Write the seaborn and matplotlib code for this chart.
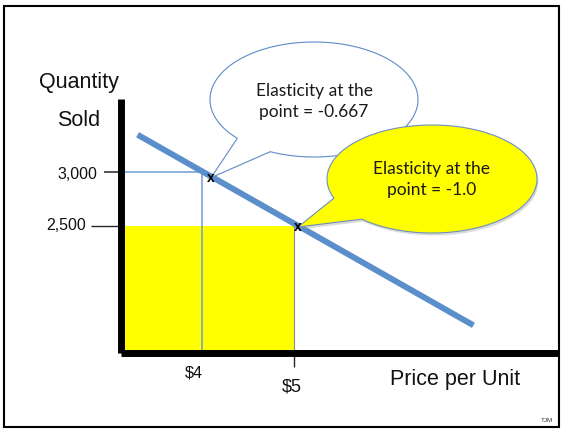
import numpy as np
import matplotlib
matplotlib.use("Agg")
import matplotlib.pyplot as plt
import seaborn as sns
from matplotlib.path import Path
from matplotlib.patches import PathPatch, Rectangle
from matplotlib.transforms import IdentityTransform, Affine2D

# Demand curve end points (price per unit, quantity sold)
demand_price = [3.3, 6.95]
demand_qty = [3345, 1580]

# Points on the curve where elasticity is measured
point_price = [4, 5]
point_qty = [3000, 2500]
price_labels = ["$4", "$5"]
qty_labels = ["3,000", "2,500"]
elasticity = ["-0.667", "-1.0"]

W, H, DPI = 561, 429, 100
LINE_BLUE = "#5b8fcc"
GUIDE_BLUE = "#6f9bd1"
YELLOW = "#ffff00"

sns.set_theme(style="white")
plt.rcParams["font.family"] = ["Liberation Sans", "DejaVu Sans"]

fig = plt.figure(figsize=(W / DPI, H / DPI), dpi=DPI)
fig.patch.set_facecolor("white")


def fx(px):
    return px / W


def fy(py):
    return 1 - py / H


# plot area between the two heavy axis bars
left, right, top, bottom = 120.5, 557.7, 99, 353.3
ax = fig.add_axes([fx(left), fy(bottom), (right - left) / W, (bottom - top) / H])
ax.set_facecolor("none")
ax.set_xlim(3.114, 7.866)
ax.set_ylim(1321, 3676)
x0, y0 = ax.get_xlim()[0], ax.get_ylim()[0]

# total revenue rectangle at $5
ax.fill_between([x0, point_price[1]], y0, point_qty[1], color=YELLOW, lw=0, zorder=1)
ax.vlines(point_price[1], y0, point_qty[1], color="#8a8a8a", lw=0.8, zorder=2)

# guides to the $4 point
ax.hlines(point_qty[0], x0, point_price[0], color=GUIDE_BLUE, lw=1.1, zorder=2)
ax.vlines(point_price[0], y0, point_qty[0], color=GUIDE_BLUE, lw=1.1, zorder=2)

# demand curve
sns.lineplot(x=demand_price, y=demand_qty, ax=ax, color=LINE_BLUE, lw=4.3,
             solid_capstyle="butt", legend=False, zorder=3)

# heavy axis bars
for side in ["top", "right"]:
    ax.spines[side].set_visible(False)
for side in ["left", "bottom"]:
    ax.spines[side].set_color("black")
    ax.spines[side].set_linewidth(5.0)
    ax.spines[side].set_capstyle("butt")
    ax.spines[side].set_zorder(5)

# ticks: long black tick at 2,500, blue lead-in at 3,000, grey tick at $5
ax.set_yticks(point_qty, labels=["", ""])
ax.set_xticks(point_price, labels=["", ""])
ax.tick_params(left=True, bottom=True, direction="out", width=1.0)
ytick_style = {3000: (12.2, GUIDE_BLUE, 1.1), 2500: (21.6, "black", 1.0)}
for t in ax.yaxis.get_major_ticks():
    size, col, w = ytick_style[int(round(t.get_loc()))]
    t.tick1line.set_markersize(size)
    t.tick1line.set_color(col)
    t.tick1line.set_markeredgewidth(w)
xtick_style = {4: (0, "black"), 5: (10.0, "#7a7a7a")}
for t in ax.xaxis.get_major_ticks():
    size, col = xtick_style[int(round(t.get_loc()))]
    t.tick1line.set_markersize(size)
    t.tick1line.set_color(col)

# tick labels
ytrans = ax.get_yaxis_transform()
xtrans = ax.get_xaxis_transform()
for q, lab, dx, dy in zip(point_qty, qty_labels, [-23.5, -34.5], [-2.5, 0]):
    ax.annotate(lab, xy=(0, q), xycoords=ytrans, xytext=(dx, dy),
                textcoords="offset pixels", ha="right", va="center",
                fontsize=11.5, color="#111111", annotation_clip=False)
for p, lab, dx, dy, fs in zip(point_price, price_labels, [-8, -2.3], [-19.7, -33.4], [11.7, 13]):
    ax.annotate(lab, xy=(p, 0), xycoords=xtrans, xytext=(dx, dy),
                textcoords="offset pixels", ha="center", va="center",
                fontsize=fs, color="#111111", annotation_clip=False)

# axis titles
ax.set_ylabel("Quantity\nSold", rotation=0, ha="center", va="center",
              fontsize=15.5, linespacing=2.05, color="#111111")
ax.yaxis.set_label_coords((78.5 - left) / (right - left), (bottom - 101.7) / (bottom - top))
ax.set_xlabel("Price per Unit", ha="center", va="center", fontsize=15.5, color="#111111")
ax.xaxis.set_label_coords((455 - left) / (right - left), -(380 - bottom) / (bottom - top))

# "x" marks on the curve
mark_offsets = [(9, -5.7), (4, -1.0)]
for p, q, off in zip(point_price, point_qty, mark_offsets):
    ax.annotate("x", xy=(p, q), xytext=off, textcoords="offset pixels",
                ha="center", va="center", fontsize=10, fontweight="bold",
                color="black", zorder=8, annotation_clip=False)


def bubble_path(center, a, b, base1, base2, tip):
    """Speech bubble outline: ellipse (pixel coords from the top) with a tail."""
    cx, cy = center
    t1 = np.arctan2((base1[1] - cy) / b, (base1[0] - cx) / a)
    t2 = np.arctan2((base2[1] - cy) / b, (base2[0] - cx) / a)
    d = (t2 - t1) % (2 * np.pi)
    if d < np.pi:
        ts = np.linspace(t2, t2 + 2 * np.pi - d, 240)
    else:
        ts = np.linspace(t1, t1 + d, 240)
    xs = cx + a * np.cos(ts)
    ys = cy + b * np.sin(ts)
    pts = [(tip[0], tip[1])] + [(x, H - y) for x, y in zip(xs, ys)] + [(tip[0], tip[1])]
    codes = [Path.MOVETO] + [Path.LINETO] * (len(pts) - 2) + [Path.CLOSEPOLY]
    return Path(pts, codes)


tips = [ax.transData.transform((p, q)) + np.array(off)
        for p, q, off in zip(point_price, point_qty, mark_offsets)]

# white bubble for the $4 point
p1 = bubble_path((314, 99.5), 104, 57.5, (238, 138), (270, 152), tips[0])
ax.add_patch(PathPatch(p1, transform=IdentityTransform(), facecolor="white",
                       edgecolor="#5b8cc8", lw=0.8, zorder=6, clip_on=False))
fig.text(fx(314), fy(101.5), f"Elasticity at the\npoint = {elasticity[0]}",
         ha="center", va="center", fontsize=12.5, family=["Lato", "DejaVu Sans"],
         color="#1a1a1a", linespacing=1.4, zorder=9)

# yellow bubble for the $5 point
p2 = bubble_path((432, 179), 105, 54, (335, 198), (361.7, 219.3), tips[1])
shadow = p2.transformed(Affine2D().translate(1.5, -2.5))
ax.add_patch(PathPatch(shadow, transform=IdentityTransform(), facecolor="#9a9a9a",
                       edgecolor="none", alpha=0.35, zorder=6.5, clip_on=False))
ax.add_patch(PathPatch(p2, transform=IdentityTransform(), facecolor=YELLOW,
                       edgecolor="#6e8fbf", lw=0.8, zorder=7, clip_on=False))
fig.text(fx(431.7), fy(179.5), f"Elasticity at the\npoint = {elasticity[1]}",
         ha="center", va="center", fontsize=12.5, family=["Lato", "DejaVu Sans"],
         color="#1a1a1a", linespacing=1.4, zorder=9)

# slide frame and initials
fig.add_artist(Rectangle((fx(4.2), fy(427)), fx(558.8) - fx(4.2), fy(5.8) - fy(427),
                         transform=fig.transFigure, fill=False, edgecolor="black", lw=1.5))
fig.text(fx(546.7), fy(420.7), "TJM", ha="center", va="center", fontsize=4.5, color="#333333")

fig.savefig("out.png", dpi=DPI, facecolor="white")
